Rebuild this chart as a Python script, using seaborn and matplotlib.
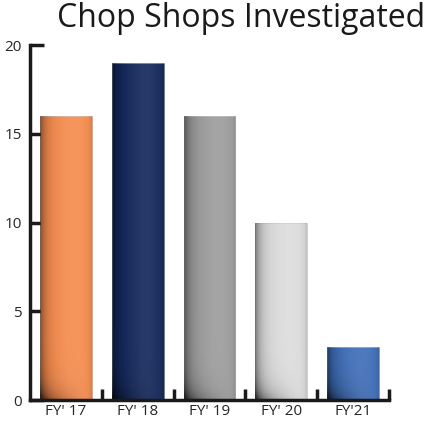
import numpy as np
import pandas as pd
import matplotlib
matplotlib.use('Agg')
import matplotlib.pyplot as plt
import seaborn as sns

years = ["FY' 17", "FY' 18", "FY' 19", "FY' 20", "FY'21"]
shops = [16, 19, 16, 10, 3]
colors = ['#F58C4E', '#12275A', '#9C9C9C', '#DCDCDC', '#3F6EB8']

df = pd.DataFrame({'year': years, 'shops': shops})

sns.set_style('white')
plt.rcParams['font.family'] = ['Open Sans', 'DejaVu Sans']

fig = plt.figure(figsize=(4.28, 4.22), dpi=100)
ax = fig.add_axes([0.07, 0.052, 0.839, 0.841])

sns.barplot(data=df, x='year', y='shops', hue='year', palette=colors,
            width=0.72, legend=False, saturation=1, ax=ax)

# bevel-like shading on each bar
for p in ax.patches:
    x0, y0 = p.get_x(), p.get_y()
    w, h = p.get_width(), p.get_height()
    nx, ny = 60, 200
    u = np.linspace(0, 1, nx)[None, :]
    v = np.linspace(0, 1, ny)[:, None]  # 0 at top in image
    a = 0.45 * np.exp(-u / 0.12) + 0.12 * np.exp(-(1 - u) / 0.05)
    hpx = h / 20 * 355
    bot = np.exp(-(1 - v) * hpx / 12) * (0.5 * (1 - u) ** 1.5)
    a = np.clip(a + bot, 0, 0.8)
    img = np.zeros((ny, nx, 4))
    img[..., 3] = a
    # soft highlight toward the right
    hl = 0.09 * np.exp(-((u - 0.65) / 0.35) ** 2) * np.ones_like(v)
    img2 = np.ones((ny, nx, 4))
    img2[..., 3] = hl
    for im_arr in (img2, img):
        im = ax.imshow(im_arr, extent=(x0, x0 + w, y0, y0 + h), aspect='auto',
                       origin='upper', zorder=p.get_zorder() + 0.1)
        im.set_clip_path(p)
    p.set_edgecolor((0, 0, 0, 0.15))
    p.set_linewidth(0.6)

ax.set_xlim(-0.5, 4.5)
ax.set_ylim(0, 20)
ax.set_yticks([0, 5, 10, 15, 20])
ax.set_xlabel('')
ax.set_ylabel('')

sns.despine(ax=ax)
for s in ['left', 'bottom']:
    ax.spines[s].set_linewidth(2.5)
    ax.spines[s].set_color('#1a1a1a')

ax.tick_params(axis='y', which='major', direction='in', length=10, width=2.5,
               color='#1a1a1a', labelsize=11, pad=6, left=True)
ax.tick_params(axis='x', which='major', length=0, labelsize=11, pad=3)
ax.set_xticks([0.5, 1.5, 2.5, 3.5, 4.5], minor=True)
ax.tick_params(axis='x', which='minor', direction='in', length=8, width=2.5,
               color='#1a1a1a', bottom=True)

fig.text(0.993, 0.995, 'Chop Shops Investigated', ha='right', va='top',
         fontsize=23, color='#1a1a1a')

fig.savefig('out.png', dpi=100)
